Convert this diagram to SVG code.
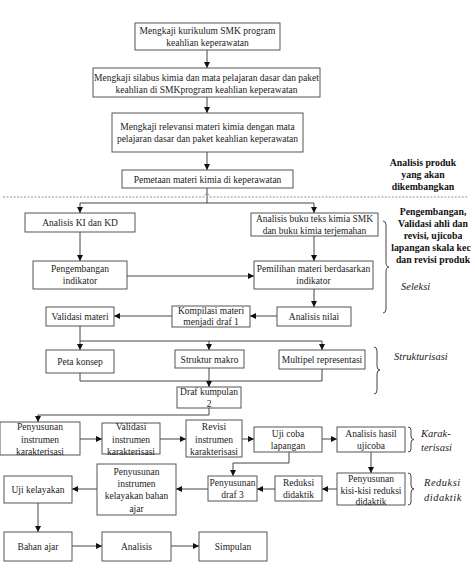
<svg xmlns="http://www.w3.org/2000/svg" width="473" height="570" viewBox="0 0 473 570">
<defs>
<marker id="ah" viewBox="0 0 6 6" refX="6" refY="3" markerWidth="6" markerHeight="6" markerUnits="userSpaceOnUse" orient="auto">
<path d="M0,0 L6,3 L0,6 z" fill="#111"/>
</marker>
<style>
.b{fill:#fff;stroke:#555;stroke-width:1}
.t{font-family:"Liberation Serif","Times New Roman",serif;font-size:9.5px;fill:#222;text-anchor:middle}
.c{fill:none;stroke:#444;stroke-width:1}
.a{fill:none;stroke:#444;stroke-width:1;marker-end:url(#ah)}
.bold{font-family:"Liberation Serif","Times New Roman",serif;font-size:9.8px;font-weight:bold;fill:#111;text-anchor:middle}
.it{font-family:"Liberation Serif","Times New Roman",serif;font-size:10.5px;font-style:italic;fill:#222}
.br{fill:none;stroke:#444;stroke-width:1}
</style>
</defs>
<rect width="473" height="570" fill="#fff"/>

<g id="connectors">
<line class="a" x1="207" y1="50" x2="207" y2="68"/>
<line class="a" x1="207" y1="97" x2="207" y2="113"/>
<line class="a" x1="207" y1="152" x2="207" y2="170"/>
<path d="M3,197 H204 A3,3 0 0 1 210,197 H468" fill="none" stroke="#777" stroke-width="0.8" stroke-dasharray="2,1.5"/>
<line class="c" x1="207" y1="188" x2="207" y2="203"/>
<path class="a" d="M207,203 H80 V213"/>
<path class="a" d="M207,203 H314 V213"/>
<line class="a" x1="80" y1="232" x2="80" y2="261"/>
<line class="a" x1="314" y1="236" x2="314" y2="261"/>
<line class="a" x1="127" y1="276" x2="254" y2="276"/>
<line class="a" x1="314" y1="289" x2="314" y2="307"/>
<line class="a" x1="277" y1="316" x2="250" y2="316"/>
<line class="a" x1="172" y1="316" x2="114" y2="316"/>
<line class="a" x1="80" y1="326" x2="80" y2="350"/>
<path class="c" d="M80,341 H322"/>
<line class="a" x1="209" y1="341" x2="209" y2="350"/>
<line class="a" x1="322" y1="341" x2="322" y2="350"/>
<path class="c" d="M80,373 V381 H322 V369"/>
<line class="a" x1="209" y1="368" x2="209" y2="387"/>
<path class="a" d="M209,408 V415 H38 V422"/>
<line class="a" x1="80" y1="439" x2="102" y2="439"/>
<line class="a" x1="160" y1="439" x2="186" y2="439"/>
<line class="a" x1="242" y1="439" x2="254" y2="439"/>
<line class="a" x1="322" y1="439" x2="337" y2="439"/>
<line class="a" x1="371" y1="452" x2="371" y2="473"/>
<path class="a" d="M289,452 V463 H233 V476"/>
<line class="a" x1="337" y1="489" x2="322" y2="489"/>
<line class="a" x1="275" y1="489" x2="257" y2="489"/>
<line class="a" x1="208" y1="489" x2="176" y2="489"/>
<line class="a" x1="97" y1="489" x2="72" y2="489"/>
<line class="a" x1="38" y1="503" x2="38" y2="532"/>
<line class="a" x1="72" y1="546" x2="102" y2="546"/>
<line class="a" x1="171" y1="546" x2="199" y2="546"/>
</g>

<g id="n1"><rect class="b" x="135" y="23" width="145" height="27"/>
<text class="t" x="207.5" y="33.5">Mengkaji kurikulum SMK program</text><text class="t" x="207.5" y="46">keahlian keperawatan</text></g>
<g id="n2"><rect class="b" x="93" y="68" width="227" height="29"/>
<text class="t" x="206.5" y="80.5">Mengkaji silabus kimia dan mata pelajaran dasar dan paket</text><text class="t" x="206.5" y="93">keahlian di SMKprogram keahlian keperawatan</text></g>
<g id="n3"><rect class="b" x="112" y="113" width="191" height="39"/>
<text class="t" x="207.5" y="129.5">Mengkaji relevansi materi kimia dengan  mata</text><text class="t" x="207.5" y="142">pelajaran dasar dan paket keahlian keperawatan</text></g>
<g id="n4"><rect class="b" x="122" y="170" width="171" height="18"/>
<text class="t" x="207.5" y="182.5">Pemetaan materi kimia di keperawatan</text></g>
<g id="n5"><rect class="b" x="25" y="213" width="110" height="19"/>
<text class="t" x="80" y="226">Analisis KI dan KD</text></g>
<g id="n6"><rect class="b" x="251" y="213" width="127" height="23"/>
<text class="t" x="314.5" y="222">Analisis buku teks kimia SMK</text><text class="t" x="314.5" y="234">dan buku kimia terjemahan</text></g>
<g id="n7"><rect class="b" x="33" y="261" width="94" height="28"/>
<text class="t" x="80" y="272">Pengembangan</text><text class="t" x="80" y="284">indikator</text></g>
<g id="n8"><rect class="b" x="254" y="261" width="119" height="28"/>
<text class="t" x="313.5" y="272">Pemilihan materi berdasarkan</text><text class="t" x="313.5" y="284">indikator</text></g>
<g id="n9"><rect class="b" x="277" y="307" width="74" height="19"/>
<text class="t" x="314" y="319.5">Analisis nilai</text></g>
<g id="n10"><rect class="b" x="172" y="306" width="78" height="21"/>
<text class="t" x="211" y="313.5">Kompilasi materi</text><text class="t" x="211" y="325">menjadi draf 1</text></g>
<g id="n11"><rect class="b" x="46" y="307" width="68" height="19"/>
<text class="t" x="80" y="319.5">Validasi materi</text></g>
<g id="n12"><rect class="b" x="46" y="350" width="68" height="23"/>
<text class="t" x="80" y="364.5">Peta konsep</text></g>
<g id="n13"><rect class="b" x="175" y="350" width="69" height="18"/>
<text class="t" x="209.5" y="362.5">Struktur makro</text></g>
<g id="n14"><rect class="b" x="279" y="350" width="86" height="19"/>
<text class="t" x="322" y="362.5">Multipel representasi</text></g>
<g id="n15"><rect class="b" x="177" y="387" width="64" height="21"/>
<text class="t" x="209" y="395">Draf kumpulan</text><text class="t" x="209" y="407">2</text></g>
<g id="n16"><rect class="b" x="0" y="422" width="80" height="33"/>
<text class="t" x="40" y="430">Penyusunan</text><text class="t" x="40" y="442.5">instrumen</text><text class="t" x="40" y="455">karakterisasi</text></g>
<g id="n17"><rect class="b" x="102" y="423" width="58" height="31"/>
<text class="t" x="131" y="430">Validasi</text><text class="t" x="131" y="442.5">instrumen</text><text class="t" x="131" y="455">karakterisasi</text></g>
<g id="n18"><rect class="b" x="186" y="420" width="56" height="37"/>
<text class="t" x="214" y="430">Revisi</text><text class="t" x="214" y="442.5">instrumen</text><text class="t" x="214" y="455">karakterisasi</text></g>
<g id="n19"><rect class="b" x="254" y="427" width="68" height="25"/>
<text class="t" x="288" y="436.5">Uji coba</text><text class="t" x="288" y="448.5">lapangan</text></g>
<g id="n20"><rect class="b" x="337" y="427" width="68" height="25"/>
<text class="t" x="371" y="436.5">Analisis hasil</text><text class="t" x="371" y="448.5">ujicoba</text></g>
<g id="n21"><rect class="b" x="337" y="473" width="68" height="32"/>
<text class="t" x="371" y="481.5">Penyusunan</text><text class="t" x="371" y="493.5">kisi-kisi reduksi</text><text class="t" x="371" y="505">didaktik</text></g>
<g id="n22"><rect class="b" x="275" y="476" width="47" height="25"/>
<text class="t" x="298.5" y="485.5">Reduksi</text><text class="t" x="298.5" y="498">didaktik</text></g>
<g id="n23"><rect class="b" x="208" y="476" width="49" height="25"/>
<text class="t" x="232.5" y="485.5">Penyusunan</text><text class="t" x="232.5" y="498">draf 3</text></g>
<g id="n24"><rect class="b" x="97" y="464" width="79" height="51"/>
<text class="t" x="136.5" y="474.5">Penyusunan</text><text class="t" x="136.5" y="486.5">instrumen</text><text class="t" x="136.5" y="499">kelayakan bahan</text><text class="t" x="136.5" y="511.5">ajar</text></g>
<g id="n25"><rect class="b" x="4" y="476" width="68" height="27"/>
<text class="t" x="38" y="493">Uji kelayakan</text></g>
<g id="n26"><rect class="b" x="4" y="532" width="68" height="29"/>
<text class="t" x="38" y="549.5">Bahan ajar</text></g>
<g id="n27"><rect class="b" x="102" y="532" width="69" height="29"/>
<text class="t" x="136.5" y="549.5">Analisis</text></g>
<g id="n28"><rect class="b" x="199" y="532" width="68" height="29"/>
<text class="t" x="233" y="549.5">Simpulan</text></g>

<g id="labels">
<text class="bold" x="423" y="166">Analisis produk</text>
<text class="bold" x="423" y="178">yang akan</text>
<text class="bold" x="423" y="190">dikembangkan</text>
<text class="bold" x="433" y="215">Pengembangan,</text>
<text class="bold" x="433" y="227">Validasi ahli dan</text>
<text class="bold" x="433" y="239">revisi, ujicoba</text>
<text class="bold" x="431" y="251">lapangan skala kec</text>
<text class="bold" x="433" y="263">dan revisi produk</text>
<text class="it" x="401" y="290">Seleksi</text>
<text class="it" x="394" y="360">Strukturisasi</text>
<text class="it" x="421" y="437">Karak-</text>
<text class="it" x="421" y="451">terisasi</text>
<text class="it" x="424" y="486" letter-spacing="0.5">Reduksi</text>
<text class="it" x="424" y="501" letter-spacing="0.5">didaktik</text>
<path class="br" d="M383,221 Q386,221 386,225 V262 Q386,267 389,267 Q386,267 386,272 V309 Q386,313 383,313"/>
<path class="br" d="M374,347 Q377,347 377,351 V366 Q377,370 380,370 Q377,370 377,374 V390 Q377,394 374,394"/>
<path class="br" d="M408,427 Q411,427 411,430 V436 Q411,439.5 414,439.5 Q411,439.5 411,443 V449 Q411,452 408,452"/>
<path class="br" d="M408,473 Q411,473 411,476 V485 Q411,489 414,489 Q411,489 411,493 V502 Q411,505 408,505"/>
</g>
</svg>
